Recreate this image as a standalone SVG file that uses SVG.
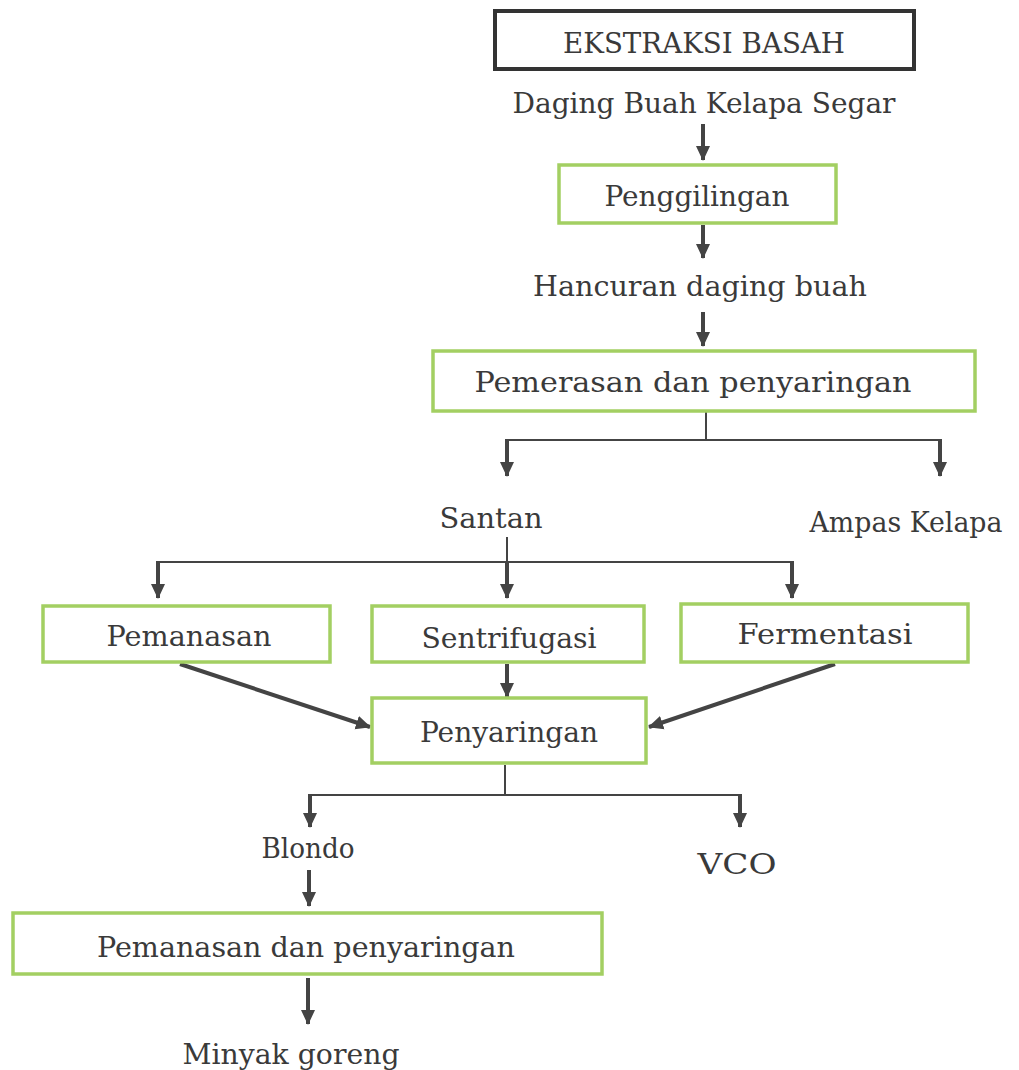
<svg xmlns="http://www.w3.org/2000/svg" width="1019" height="1070" viewBox="0 0 1019 1070">
  <style>
    .lbl { font-family: "DejaVu Serif", "Liberation Serif", serif; font-size: 28px; fill: #3a3a3a; text-anchor: middle; }
    .box { fill: #ffffff; stroke: #a3cf62; stroke-width: 3.5; }
    .title { fill: #ffffff; stroke: #333333; stroke-width: 4; }
    .shaft { fill: none; stroke: #444444; stroke-width: 4; }
    .branch { fill: none; stroke: #444444; stroke-width: 2; }
  </style>
  <defs>
    <marker id="head" markerUnits="userSpaceOnUse" markerWidth="16" markerHeight="16" refX="14" refY="8" orient="auto">
      <path d="M0,1 L15,8 L0,15 Z" fill="#444444"/>
    </marker>
  </defs>
  <rect width="1019" height="1070" fill="#ffffff"/>

  <!-- connectors -->
  <g id="connectors">
    <path class="shaft" d="M703,124 V160" marker-end="url(#head)"/>
    <path class="shaft" d="M703,225 V258" marker-end="url(#head)"/>
    <path class="shaft" d="M703,312 V346" marker-end="url(#head)"/>
    <!-- split after pressing -->
    <path class="branch" d="M706,412 V440 M506,440 H941"/>
    <path class="shaft" d="M507,439 V476" marker-end="url(#head)"/>
    <path class="shaft" d="M940,439 V476" marker-end="url(#head)"/>
    <!-- split from santan -->
    <path class="branch" d="M507,537 V562 M157,562 H793"/>
    <path class="shaft" d="M158,561 V598" marker-end="url(#head)"/>
    <path class="shaft" d="M507,561 V598" marker-end="url(#head)"/>
    <path class="shaft" d="M792,561 V598" marker-end="url(#head)"/>
    <!-- into penyaringan -->
    <path class="shaft" d="M507,664 V697" marker-end="url(#head)"/>
    <path class="shaft" d="M180,664 L370,727" marker-end="url(#head)"/>
    <path class="shaft" d="M835,664 L649,727" marker-end="url(#head)"/>
    <!-- split after penyaringan -->
    <path class="branch" d="M505,765 V795 M309,795 H741"/>
    <path class="shaft" d="M310,794 V827" marker-end="url(#head)"/>
    <path class="shaft" d="M740,794 V827" marker-end="url(#head)"/>
    <path class="shaft" d="M309,870 V906" marker-end="url(#head)"/>
    <path class="shaft" d="M308,978 V1024" marker-end="url(#head)"/>
  </g>

  <g id="ekstraksi-basah">
    <rect class="title" x="495" y="11" width="419" height="58"/>
    <text class="lbl" x="704" y="53" font-size="24" textLength="282" lengthAdjust="spacingAndGlyphs">EKSTRAKSI BASAH</text>
  </g>
  <g id="daging-buah">
    <text class="lbl" x="704" y="113" textLength="383" lengthAdjust="spacingAndGlyphs">Daging Buah Kelapa Segar</text>
  </g>
  <g id="penggilingan">
    <rect class="box" x="559" y="165" width="277" height="58"/>
    <text class="lbl" x="697" y="206" textLength="185" lengthAdjust="spacingAndGlyphs">Penggilingan</text>
  </g>
  <g id="hancuran">
    <text class="lbl" x="700" y="296" textLength="334" lengthAdjust="spacingAndGlyphs">Hancuran daging buah</text>
  </g>
  <g id="pemerasan">
    <rect class="box" x="433" y="351" width="542" height="60"/>
    <text class="lbl" x="693" y="392" textLength="437" lengthAdjust="spacingAndGlyphs">Pemerasan dan penyaringan</text>
  </g>
  <g id="santan">
    <text class="lbl" x="491" y="528" textLength="103" lengthAdjust="spacingAndGlyphs">Santan</text>
  </g>
  <g id="ampas">
    <text class="lbl" x="906" y="532" textLength="193" lengthAdjust="spacingAndGlyphs">Ampas Kelapa</text>
  </g>
  <g id="pemanasan">
    <rect class="box" x="43" y="606" width="287" height="56"/>
    <text class="lbl" x="189" y="646" textLength="165" lengthAdjust="spacingAndGlyphs">Pemanasan</text>
  </g>
  <g id="sentrifugasi">
    <rect class="box" x="372" y="606" width="272" height="56"/>
    <text class="lbl" x="509" y="648" textLength="175" lengthAdjust="spacingAndGlyphs">Sentrifugasi</text>
  </g>
  <g id="fermentasi">
    <rect class="box" x="681" y="604" width="287" height="58"/>
    <text class="lbl" x="825" y="644" textLength="175" lengthAdjust="spacingAndGlyphs">Fermentasi</text>
  </g>
  <g id="penyaringan">
    <rect class="box" x="372" y="698" width="274" height="65"/>
    <text class="lbl" x="509" y="742" textLength="178" lengthAdjust="spacingAndGlyphs">Penyaringan</text>
  </g>
  <g id="blondo">
    <text class="lbl" x="308" y="858" font-size="24" textLength="93" lengthAdjust="spacingAndGlyphs">Blondo</text>
  </g>
  <g id="vco">
    <text class="lbl" x="737" y="874" textLength="79" lengthAdjust="spacingAndGlyphs">VCO</text>
  </g>
  <g id="pemanasan-penyaringan">
    <rect class="box" x="13" y="913" width="589" height="61"/>
    <text class="lbl" x="306" y="957" textLength="418" lengthAdjust="spacingAndGlyphs">Pemanasan dan penyaringan</text>
  </g>
  <g id="minyak-goreng">
    <text class="lbl" x="291" y="1064" textLength="217" lengthAdjust="spacingAndGlyphs">Minyak goreng</text>
  </g>
</svg>
